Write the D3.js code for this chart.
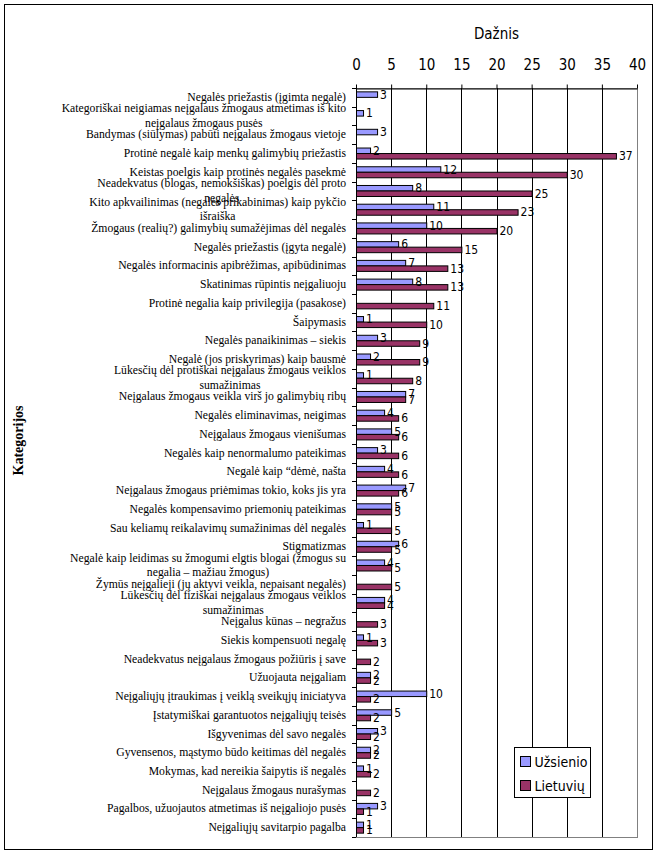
<!DOCTYPE html>
<html>
<head>
<meta charset="utf-8">
<script src="https://cdn.jsdelivr.net/npm/d3@7"></script>
<style>
  body { margin: 0; background: #fff; }
  svg { display: block; }
  .serif { font-family: "Liberation Serif", "Tinos", "DejaVu Serif", serif; }
  .sans { font-family: "Liberation Sans Narrow", "DejaVu Sans Condensed", "DejaVu Sans", sans-serif; }
</style>
</head>
<body>
<div id="my_dataviz"></div>
<script>
// Categories (line breaks as in the original wrapped labels)
const categories = [
  "Negalės priežastis (įgimta negalė)",
  "Kategoriškai neigiamas neįgalaus žmogaus atmetimas iš kito\nneįgalaus žmogaus pusės",
  "Bandymas (siūlymas) pabūti neįgalaus žmogaus vietoje",
  "Protinė negalė kaip menkų galimybių priežastis",
  "Keistas poelgis kaip protinės negalės pasekmė",
  "Neadekvatus (blogas, nemokšiškas) poelgis dėl proto\nnegalės",
  "Kito apkvailinimas (negalės prikabinimas) kaip pykčio\nišraiška",
  "Žmogaus (realių?) galimybių sumažėjimas dėl negalės",
  "Negalės priežastis (įgyta negalė)",
  "Negalės informacinis apibrėžimas, apibūdinimas",
  "Skatinimas rūpintis neįgaliuoju",
  "Protinė negalia kaip privilegija (pasakose)",
  "Šaipymasis",
  "Negalės panaikinimas – siekis",
  "Negalė (jos priskyrimas) kaip bausmė",
  "Lūkesčių dėl protiškai neįgalaus žmogaus veiklos\nsumažinimas",
  "Neįgalaus žmogaus veikla virš jo galimybių ribų",
  "Negalės eliminavimas, neigimas",
  "Neįgalaus žmogaus vienišumas",
  "Negalės kaip nenormalumo pateikimas",
  "Negalė kaip “dėmė, našta",
  "Neįgalaus žmogaus priėmimas tokio, koks jis yra",
  "Negalės kompensavimo priemonių pateikimas",
  "Sau keliamų reikalavimų sumažinimas dėl negalės",
  "Stigmatizmas",
  "Negalė kaip leidimas su žmogumi elgtis blogai (žmogus su\nnegalia – mažiau žmogus)",
  "Žymūs neįgalieji (jų aktyvi veikla, nepaisant negalės)",
  "Lūkesčių dėl fiziškai neįgalaus žmogaus veiklos\nsumažinimas",
  "Neįgalus kūnas – negražus",
  "Siekis kompensuoti negalę",
  "Neadekvatus neįgalaus žmogaus požiūris į save",
  "Užuojauta neįgaliam",
  "Neįgaliųjų įtraukimas į veiklą sveikųjų iniciatyva",
  "Įstatymiškai garantuotos neįgaliųjų teisės",
  "Išgyvenimas dėl savo negalės",
  "Gyvensenos, mąstymo būdo keitimas dėl negalės",
  "Mokymas, kad nereikia šaipytis iš negalės",
  "Neįgalaus žmogaus nurašymas",
  "Pagalbos, užuojautos atmetimas iš neįgaliojo pusės",
  "Neįgaliųjų savitarpio pagalba"
];

const uzsienio = [3, 1, 3, 2, 12, 8, 11, 10, 6, 7, 8, 0, 1, 3, 2, 1, 7, 4, 5, 3,
                  4, 7, 5, 1, 6, 4, 0, 4, 0, 1, 0, 2, 10, 5, 3, 2, 1, 0, 3, 1];
const lietuviu = [0, 0, 0, 37, 30, 25, 23, 20, 15, 13, 13, 11, 10, 9, 9, 8, 7, 6, 6, 6,
                  6, 6, 5, 5, 5, 5, 5, 4, 3, 3, 2, 2, 2, 2, 2, 2, 2, 2, 1, 1];

const seriesNames = ["Užsienio", "Lietuvių"];
const seriesColors = ["#9999FF", "#993366"];
const xTicks = [0, 5, 10, 15, 20, 25, 30, 35, 40];

const width = 657, height = 854;

const svg = d3.select("#my_dataviz")
  .append("svg")
  .attr("width", width)
  .attr("height", height);

// outer chart border
svg.append("rect")
  .attr("x", 4.5).attr("y", 4.5)
  .attr("width", 648).attr("height", 845)
  .attr("fill", "white")
  .attr("stroke", "black");

const plot = { left: 356, right: 637, top: 88, bottom: 837 };

const x = d3.scaleLinear().domain([0, 40]).range([plot.left, plot.right]);
const y = d3.scaleBand().domain(categories).range([plot.top, plot.bottom]).padding(0);
const ySub = d3.scaleBand().domain(seriesNames).range([0, y.bandwidth()])
  .paddingInner(0).paddingOuter(0.7);

// plot area border (grey right / bottom)
svg.append("rect")
  .attr("x", plot.left + 0.5).attr("y", plot.top + 0.5)
  .attr("width", plot.right - plot.left).attr("height", plot.bottom - plot.top)
  .attr("fill", "none")
  .attr("stroke", "#808080");

// vertical gridlines
svg.append("g")
  .selectAll("line")
  .data(xTicks.slice(1, -1))
  .join("line")
  .attr("x1", d => Math.round(x(d)) + 0.5)
  .attr("x2", d => Math.round(x(d)) + 0.5)
  .attr("y1", plot.top)
  .attr("y2", plot.bottom)
  .attr("stroke", "black");

// bars
const rows = categories.map((c, i) => ({ cat: c, values: [uzsienio[i], lietuviu[i]] }));

const group = svg.append("g")
  .selectAll("g")
  .data(rows)
  .join("g")
  .attr("transform", d => `translate(0,${y(d.cat)})`);

group.selectAll("rect")
  .data(d => d.values.map((v, k) => ({ v: v, s: seriesNames[k], k: k })).filter(e => e.v > 0))
  .join("rect")
  .attr("x", x(0) + 0.5)
  .attr("y", d => ySub(d.s))
  .attr("width", d => x(d.v) - x(0))
  .attr("height", ySub.bandwidth())
  .attr("fill", d => seriesColors[d.k])
  .attr("stroke", "black")
  .attr("stroke-width", 1);

// value labels
group.selectAll("text")
  .data(d => d.values.map((v, k) => ({ v: v, s: seriesNames[k] })).filter(e => e.v > 0))
  .join("text")
  .attr("class", "sans")
  .attr("x", d => x(d.v) + 3)
  .attr("y", d => ySub(d.s) + ySub.bandwidth() / 2)
  .attr("dominant-baseline", "central")
  .style("font-size", "12px")
  .text(d => d.v);

// top axis
const xAxis = svg.append("g")
  .attr("transform", `translate(0,${plot.top + 0.5})`)
  .call(d3.axisTop(x).tickValues(xTicks).tickSize(4).tickSizeOuter(0).tickPadding(15));
xAxis.attr("font-family", null);
xAxis.select(".domain").attr("stroke", "black");
xAxis.selectAll(".tick line").attr("stroke", "black");
xAxis.selectAll("text")
  .attr("class", "sans")
  .style("font-size", "15px")
  .attr("fill", "black");

// left axis line and ticks at category boundaries
svg.append("line")
  .attr("x1", plot.left + 0.5).attr("x2", plot.left + 0.5)
  .attr("y1", plot.top).attr("y2", plot.bottom)
  .attr("stroke", "black");

svg.append("g")
  .selectAll("line")
  .data(categories.map(c => y(c)).concat([plot.bottom]))
  .join("line")
  .attr("x1", plot.left - 4)
  .attr("x2", plot.left)
  .attr("y1", d => Math.round(d) + 0.5)
  .attr("y2", d => Math.round(d) + 0.5)
  .attr("stroke", "black");

// category labels (wrapped lines centred inside a right-aligned block)
const labelRight = 346;
const lineHeight = 14.5;
categories.forEach(c => {
  const lines = c.split("\n");
  const cy = y(c) + y.bandwidth() / 2;
  const texts = lines.map((ln, i) => svg.append("text")
    .attr("class", "serif")
    .attr("y", cy + (i - (lines.length - 1) / 2) * lineHeight)
    .attr("dominant-baseline", "central")
    .style("font-size", "11.7px")
    .text(ln));
  if (lines.length === 1) {
    texts[0].attr("x", labelRight).attr("text-anchor", "end");
  } else {
    const w = d3.max(texts, t => t.node().getComputedTextLength());
    texts.forEach(t => t.attr("x", labelRight - w / 2).attr("text-anchor", "middle"));
  }
});

// axis titles
svg.append("text")
  .attr("class", "sans")
  .attr("x", (plot.left + plot.right) / 2)
  .attr("y", 39)
  .attr("text-anchor", "middle")
  .style("font-size", "15px")
  .text("Dažnis");

svg.append("text")
  .attr("class", "serif")
  .attr("transform", `translate(23,${(plot.top + plot.bottom) / 2 - 22}) rotate(-90)`)
  .attr("text-anchor", "middle")
  .style("font-size", "14px")
  .style("font-weight", "bold")
  .text("Kategorijos");

// legend
const legend = svg.append("g").attr("transform", "translate(514.5,747.5)");
legend.append("rect")
  .attr("width", 76).attr("height", 50)
  .attr("fill", "white").attr("stroke", "black");
seriesNames.forEach((s, i) => {
  legend.append("rect")
    .attr("x", 6).attr("y", 9 + i * 24)
    .attr("width", 10).attr("height", 10)
    .attr("fill", seriesColors[i]).attr("stroke", "black");
  legend.append("text")
    .attr("class", "sans")
    .attr("x", 20).attr("y", 14 + i * 24)
    .attr("dominant-baseline", "central")
    .style("font-size", "14px")
    .text(s);
});
</script>
</body>
</html>
